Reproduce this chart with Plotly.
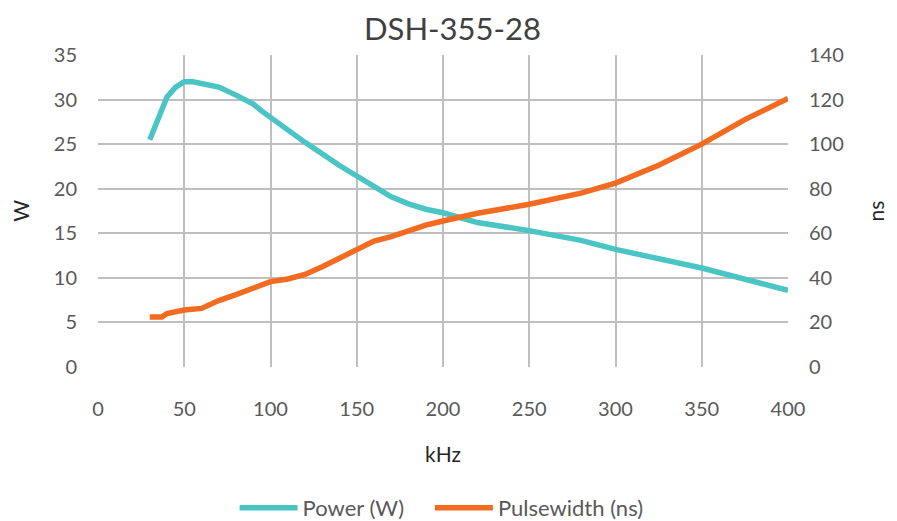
import plotly.graph_objects as go

title_text = "DSH-355-28"

power_khz = [30, 35, 40, 45, 50, 55, 60, 70, 80, 90, 95, 100, 110, 120, 140, 150, 160, 170, 180, 190, 200, 220, 250, 280, 300, 350, 400]
power_w = [25.5, 28.0, 30.3, 31.4, 32.0, 32.0, 31.8, 31.4, 30.5, 29.5, 28.7, 28.0, 26.7, 25.2, 22.6, 21.4, 20.3, 19.1, 18.3, 17.7, 17.3, 16.2, 15.3, 14.2, 13.2, 11.1, 8.6]

pw_khz = [30, 37, 40, 50, 60, 70, 80, 90, 100, 110, 120, 130, 140, 150, 160, 170, 180, 190, 200, 220, 250, 280, 300, 325, 350, 375, 400]
pw_ns = [22.4, 22.4, 24.0, 25.6, 26.3, 29.8, 32.5, 35.2, 38.3, 39.5, 41.5, 45.0, 49.0, 53.0, 56.5, 58.5, 61.0, 63.7, 65.5, 69.0, 73.0, 78.0, 82.5, 90.5, 100.0, 111.0, 120.5]

FONT = "Lato"
TICK_COLOR = "#595959"
GRID = "#bfbfbf"

fig = go.Figure()
fig.add_trace(go.Scatter(x=power_khz, y=power_w, mode="lines", name="Power (W)",
                         line=dict(color="#4bc4c4", width=5.5), yaxis="y", legend="legend"))
fig.add_trace(go.Scatter(x=pw_khz, y=pw_ns, mode="lines", name="Pulsewidth (ns)",
                         line=dict(color="#f26b21", width=5.5), yaxis="y2", legend="legend2"))

leg_common = dict(orientation="h", yanchor="middle", y=-0.452, xanchor="left",
                  font=dict(family=FONT, size=22, color=TICK_COLOR), itemwidth=58,
                  bgcolor="rgba(0,0,0,0)")

# page body has an 8px margin, so the figure is sized to fit the window
fig.update_layout(
    width=889, height=513,
    margin=dict(l=90, r=109, t=47, b=154, autoexpand=False),
    paper_bgcolor="white", plot_bgcolor="white",
    font=dict(family=FONT, size=20, color=TICK_COLOR),
    title=dict(text=title_text, x=0.5, xanchor="center", y=0.958, yanchor="middle",
               font=dict(family=FONT, size=31, color="#404040")),
    showlegend=True,
    legend=dict(x=0.198, **leg_common),
    legend2=dict(x=0.481, **leg_common),
    xaxis=dict(range=[0, 400], dtick=50, tick0=0, showgrid=True, gridcolor=GRID, gridwidth=1.5,
               zeroline=False, showline=False, ticks="outside", ticklen=24,
               tickcolor="rgba(0,0,0,0)", automargin=False,
               title=dict(text="kHz", font=dict(family=FONT, size=21, color="#262626"), standoff=28)),
    yaxis=dict(range=[0, 35], dtick=5, showgrid=True, gridcolor=GRID, gridwidth=1.5,
               zeroline=False, showline=False, ticks="outside", ticklen=16,
               tickcolor="rgba(0,0,0,0)", automargin=False,
               title=dict(text="W", font=dict(family=FONT, size=21, color="#262626"), standoff=40)),
    yaxis2=dict(range=[0, 140], dtick=20, overlaying="y", side="right", showgrid=False,
                zeroline=False, showline=False, ticks="outside", ticklen=16,
                tickcolor="rgba(0,0,0,0)", automargin=False,
                title=dict(text="ns", font=dict(family=FONT, size=21, color="#262626"), standoff=26)),
)

fig.write_html("out.html")
